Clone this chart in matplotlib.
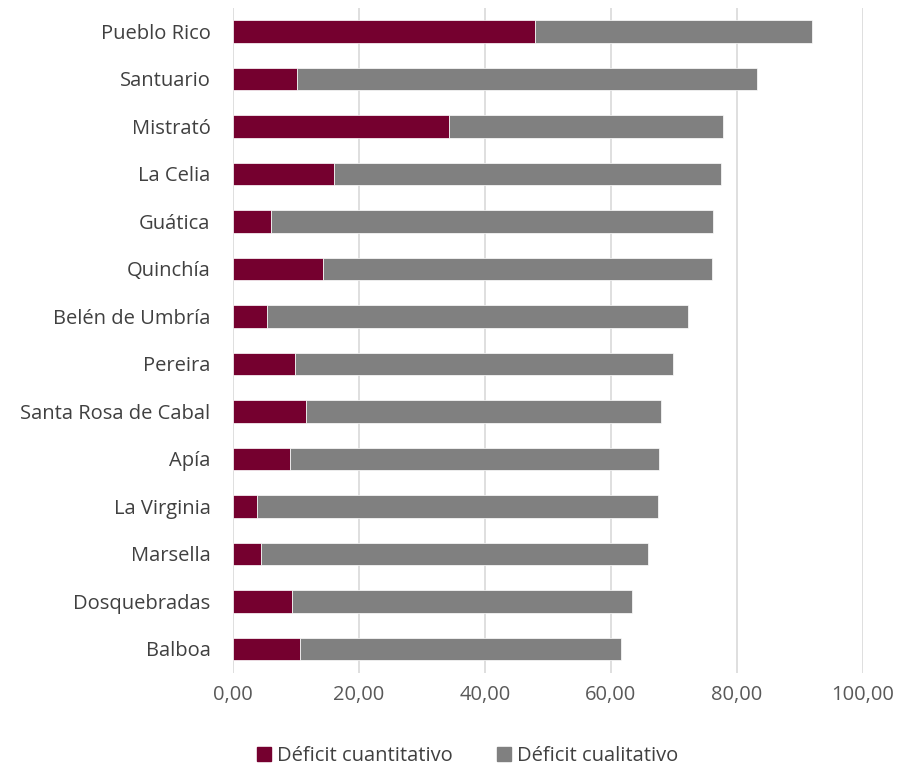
import numpy as np
import matplotlib
matplotlib.use('Agg')
import matplotlib.pyplot as plt
from matplotlib.patches import Patch

municipios = ['Pueblo Rico', 'Santuario', 'Mistrató', 'La Celia', 'Guática',
              'Quinchía', 'Belén de Umbría', 'Pereira', 'Santa Rosa de Cabal',
              'Apía', 'La Virginia', 'Marsella', 'Dosquebradas', 'Balboa']
cuantitativo = [48.0, 10.2, 34.3, 16.0, 6.0, 14.3, 5.4, 9.9, 11.6, 9.1, 3.8, 4.5, 9.4, 10.6]
total = [91.9, 83.1, 77.7, 77.4, 76.2, 76.1, 72.2, 69.8, 67.9, 67.7, 67.4, 65.8, 63.4, 61.6]
cualitativo = [t - c for t, c in zip(total, cuantitativo)]
xticks = [0, 20, 40, 60, 80, 100]

plt.rcParams['font.family'] = ['Open Sans', 'DejaVu Sans']

fig = plt.figure(figsize=(8.99, 7.67), dpi=100)
ax = fig.add_axes([0.259, 0.123, 0.701, 0.867])

y = np.arange(len(municipios))
ax.barh(y, cuantitativo, height=0.47, color='#75002F', edgecolor='white', linewidth=0.5, zorder=3)
ax.barh(y, cualitativo, left=cuantitativo, height=0.47, color='#808080',
        edgecolor='white', linewidth=0.5, zorder=3)

ax.set_ylim(len(municipios) - 0.5, -0.5)
ax.set_xlim(0, 100)
ax.set_yticks(y)
ax.set_yticklabels(municipios, fontsize=14.5, color='#404040')
ax.set_xticks(xticks)
ax.set_xticklabels(['%d,00' % v for v in xticks], fontsize=14.5, color='#595959')
ax.tick_params(length=0)
ax.tick_params(axis='x', pad=9)
ax.tick_params(axis='y', pad=16)
ax.xaxis.grid(True, color='#d9d9d9', linewidth=1.2, zorder=0)
for s in ax.spines.values():
    s.set_visible(False)

handles = [Patch(color='#75002F'), Patch(color='#808080')]
fig.legend(handles, ['Déficit cuantitativo', 'Déficit cualitativo'],
           loc='center', bbox_to_anchor=(0.52, 0.014), ncol=2, frameon=False,
           fontsize=14.5, handlelength=0.7, handleheight=0.7, handletextpad=0.3,
           columnspacing=2.2, labelcolor='#404040')

fig.savefig('out.png', dpi=100)
